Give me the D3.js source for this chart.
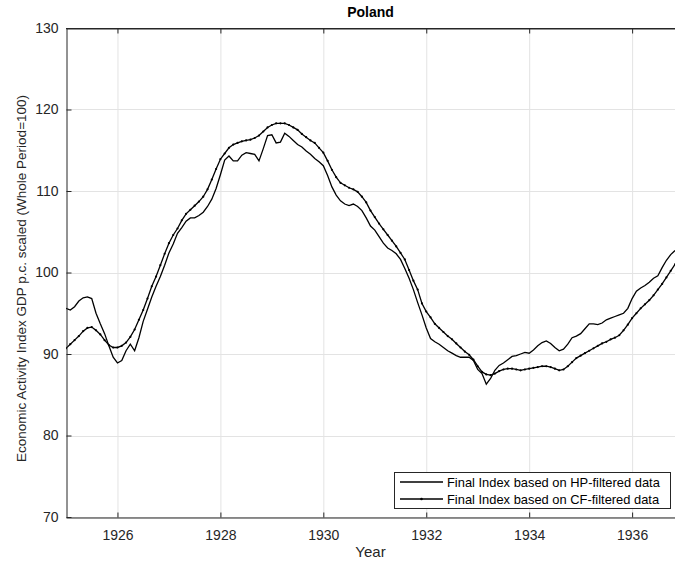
<!DOCTYPE html>
<html><head><meta charset="utf-8">
<script src="https://cdn.jsdelivr.net/npm/d3@7"></script>
<style>body{margin:0;background:#fff}svg{display:block;font-family:"Liberation Sans",Arial,sans-serif}</style>
</head><body><svg id="c" width="675" height="564"></svg>
<script>
const startYear = 1925;
const monthsPerYear = 12;
const hpValues = [95.6,95.4,95.8,96.5,96.9,97.0,96.8,95.0,93.7,92.5,91.0,89.6,88.9,89.2,90.4,91.2,90.4,92.0,94.0,95.5,97.0,98.3,99.5,100.9,102.4,103.5,104.8,105.5,106.3,106.7,106.7,107.0,107.4,108.1,109.0,110.3,112.0,113.8,114.3,113.7,113.7,114.4,114.7,114.6,114.5,113.7,115.2,116.8,116.9,115.9,116.0,117.1,116.7,116.2,115.7,115.4,114.9,114.5,114.0,113.6,113.1,111.9,110.5,109.5,108.8,108.4,108.2,108.4,108.1,107.6,106.7,105.7,105.2,104.4,103.6,103.0,102.7,102.3,101.6,100.5,99.3,97.9,96.3,94.8,93.2,91.9,91.5,91.2,90.8,90.4,90.1,89.8,89.6,89.6,89.6,89.2,88.1,87.6,86.3,87.0,88.0,88.6,88.9,89.3,89.7,89.8,90.0,90.2,90.1,90.5,91.0,91.4,91.6,91.3,90.8,90.4,90.6,91.2,92.0,92.2,92.5,93.1,93.7,93.7,93.6,93.8,94.2,94.4,94.6,94.8,95.0,95.6,96.8,97.7,98.1,98.4,98.8,99.3,99.6,100.6,101.5,102.2,102.7];
const cfValues = [90.7,91.2,91.7,92.2,92.8,93.2,93.3,92.9,92.4,91.7,91.1,90.8,90.8,91.0,91.4,92.1,93.0,94.2,95.4,96.8,98.3,99.5,100.9,102.3,103.6,104.6,105.4,106.4,107.2,107.7,108.2,108.7,109.3,110.2,111.4,112.7,113.9,114.6,115.3,115.7,115.9,116.1,116.2,116.3,116.5,116.8,117.3,117.8,118.1,118.3,118.3,118.3,118.1,117.8,117.5,117.0,116.6,116.2,115.9,115.3,114.7,113.7,112.6,111.7,111.0,110.7,110.4,110.2,109.9,109.3,108.6,107.6,106.8,106.0,105.3,104.6,103.9,103.2,102.4,101.6,100.3,99.0,97.9,96.2,95.2,94.5,93.7,93.2,92.7,92.2,91.8,91.3,90.8,90.3,89.9,89.3,88.5,87.8,87.5,87.4,87.6,87.9,88.1,88.2,88.2,88.1,88.0,88.1,88.2,88.3,88.4,88.5,88.5,88.4,88.2,88.0,88.1,88.5,89.0,89.5,89.8,90.1,90.4,90.7,91.0,91.3,91.5,91.8,92.0,92.3,92.9,93.6,94.4,95.0,95.6,96.1,96.6,97.2,97.9,98.6,99.4,100.2,101.0];
const xTickYears = [1926,1928,1930,1932,1934,1936];
const yTickValues = [70,80,90,100,110,120,130];
const titleText = "Poland";
const xLabel = "Year";
const yLabel = "Economic Activity Index GDP p.c. scaled (Whole Period=100)";
const seriesNames = ["Final Index based on HP-filtered data","Final Index based on CF-filtered data"];

const times = hpValues.map((_, i) => startYear + i / monthsPerYear);
const L = 66, R = 675, T = 28, B = 517;
const x = d3.scaleLinear().domain([startYear, times[times.length-1]]).range([L, R]);
const y = d3.scaleLinear().domain([70,130]).range([B, T]);
const svg = d3.select("#c");
const axisCol = "#262626";

// grid
const g = svg.append("g");
g.selectAll(".gx").data(xTickYears).join("line")
  .attr("x1", d=>x(d)+0.5).attr("x2", d=>x(d)+0.5).attr("y1", T).attr("y2", B)
  .attr("stroke", "#e3e3e3").attr("stroke-width", 1);
g.selectAll(".gy").data(yTickValues).join("line")
  .attr("y1", d=>Math.round(y(d))+0.5).attr("y2", d=>Math.round(y(d))+0.5).attr("x1", L).attr("x2", R)
  .attr("stroke", "#e3e3e3").attr("stroke-width", 1);

// lines
svg.append("clipPath").attr("id","cp").append("rect").attr("x",L).attr("y",T).attr("width",R-L).attr("height",B-T);
const line = d3.line().x((d,i)=>x(times[i])).y(d=>y(d));
const pg = svg.append("g").attr("clip-path","url(#cp)");
pg.append("path").attr("d", line(hpValues)).attr("fill","none").attr("stroke","#000").attr("stroke-width",1.3);
pg.append("path").attr("d", line(cfValues)).attr("fill","none").attr("stroke","#000").attr("stroke-width",1.3);
pg.selectAll(".m").data(cfValues).join("circle")
  .attr("cx",(d,i)=>x(times[i])).attr("cy",d=>y(d)).attr("r",1.1).attr("fill","#000");

// axes
const xAxis = d3.axisBottom(x).tickValues(xTickYears).tickFormat(d3.format("d")).tickSizeInner(-5).tickSizeOuter(0).tickPadding(13);
const yAxis = d3.axisLeft(y).tickValues(yTickValues).tickSizeInner(-5).tickSizeOuter(0).tickPadding(8);
const xa = svg.append("g").attr("transform",`translate(0,${B+0.5})`).call(xAxis);
const ya = svg.append("g").attr("transform",`translate(${L+0.5},0)`).call(yAxis);
const xt = svg.append("g").attr("transform",`translate(0,${T+0.5})`).call(d3.axisTop(x).tickValues(xTickYears).tickFormat("").tickSizeInner(-5).tickSizeOuter(0));
[xa,ya,xt].forEach(a=>{
  a.selectAll("path,line").attr("stroke",axisCol);
  a.selectAll("text").attr("fill",axisCol).style("font-size","14px").style("font-family",'"Liberation Sans",Arial,sans-serif');
});
svg.append("line").attr("x1",L).attr("x2",R).attr("y1",T+0.5).attr("y2",T+0.5).attr("stroke",axisCol);

// labels
svg.append("text").attr("x",(L+R)/2).attr("y",17).attr("text-anchor","middle")
  .style("font-size","14px").style("font-weight","bold").attr("fill","#000").text(titleText);
svg.append("text").attr("x",(L+R)/2).attr("y",557).attr("text-anchor","middle")
  .style("font-size","15px").attr("fill",axisCol).text(xLabel);
svg.append("text").attr("transform",`translate(26,${(T+B)/2+6}) rotate(-90)`).attr("text-anchor","middle")
  .style("font-size","13.5px").attr("fill",axisCol).text(yLabel);

// legend
const lg = svg.append("g");
lg.append("rect").attr("x",394.5).attr("y",472.5).attr("width",276).attr("height",36)
  .attr("fill","#fff").attr("stroke",axisCol).attr("stroke-width",1);
seriesNames.forEach((n,k)=>{
  const yy = 482 + k*17;
  lg.append("line").attr("x1",400).attr("x2",443).attr("y1",yy).attr("y2",yy).attr("stroke","#000").attr("stroke-width",1.3);
  if(k===1) lg.append("circle").attr("cx",421.5).attr("cy",yy).attr("r",1.3).attr("fill","#000");
  lg.append("text").attr("x",447).attr("y",yy+4.5).style("font-size","12.9px").attr("fill","#000").text(n);
});
</script></body></html>
